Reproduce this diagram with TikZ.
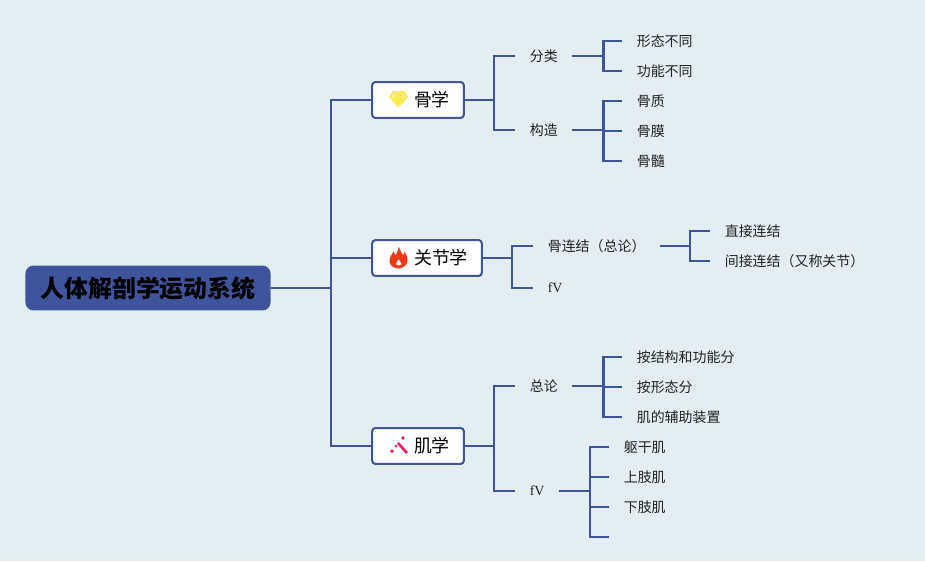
\documentclass[tikz,border=0pt]{standalone}
\usepackage{fontspec}
\usepackage{xcolor}
\setmainfont{Noto Sans CJK SC}
\newfontfamily\fvfont{Liberation Serif}
\usetikzlibrary{positioning}
\definecolor{mybg}{RGB}{228,237,242}
\definecolor{mybar}{RGB}{64,84,158}
\definecolor{mytext}{RGB}{34,34,34}
\definecolor{mygem}{RGB}{250,232,70}
\definecolor{mygemlight}{RGB}{253,245,160}
\definecolor{myflame}{RGB}{240,58,23}
\definecolor{mywand}{RGB}{232,34,95}
\def\px{0.5669pt}
\tikzset{
  rootbox/.style={rectangle, fill=mybar, rounded corners=4.5pt, text=black,
    minimum width=246*\px, minimum height=45*\px, inner sep=0pt,
    font=\fontsize{13.6pt}{16pt}\selectfont\bfseries},
  branchbox/.style={rectangle, draw=mybar, fill=white, rounded corners=1.8pt,
    line width=1.15pt, minimum height=36*\px, inner xsep=14*\px, inner ysep=0pt, outer sep=0pt,
    align=right, text=black, font=\fontsize{10.2pt}{12pt}\selectfont},
  item/.style={anchor=west, inner xsep=14.5*\px, inner ysep=2pt, text=mytext,
    font=\fontsize{7.94pt}{10pt}\selectfont},
  link/.style={line width=1.15pt, color=mybar}
}
\begin{document}
\begin{tikzpicture}[x=0.02cm, y=-0.02cm]
  \fill[mybg] (0,0) rectangle (925,561);
  \useasboundingbox (0,0) rectangle (925,561);

  \node[rootbox] (root) at (148,288) {人体解剖学运动系统};
  \node[branchbox, text width=64*\px] (gu) at (418,100) {骨学};
  \node[branchbox, text width=82*\px] (guanjie) at (427,258) {关节学};
  \node[branchbox, text width=64*\px] (ji) at (418,446) {肌学};

  % first branch
  \node[item] (fenlei) at (515,56) {分类};
  \node[item] (gouzao) at (515,130) {构造};
  \node[item] (xingtai) at (622,41) {形态不同};
  \node[item] (gongneng) at (622,71) {功能不同};
  \node[item] (guzhi) at (622,101) {骨质};
  \node[item] (gumo) at (622,131) {骨膜};
  \node[item] (gusui) at (622,161) {骨髓};

  % second branch
  \node[item] (gulian) at (533,246) {骨连结（总论）};
  \node[item] (fva) at (533,288) {\fvfont fV};
  \node[item] (zhijie) at (710,231) {直接连结};
  \node[item] (jianjie) at (710,261) {间接连结（又称关节）};

  % third branch
  \node[item] (zonglun) at (515,386) {总论};
  \node[item] (fvb) at (515,491) {\fvfont fV};
  \node[item] (jiegou) at (622,357) {按结构和功能分};
  \node[item] (xingfen) at (622,387) {按形态分};
  \node[item] (fuzhu) at (622,417) {肌的辅助装置};
  \node[item] (qugan) at (609,447) {躯干肌};
  \node[item] (shangzhi) at (609,477) {上肢肌};
  \node[item] (xiazhi) at (609,507) {下肢肌};
  \coordinate (blank) at (609,537);

  \foreach \to in {gu,guanjie,ji}
    \draw[link] (root.east) -- ++(60,0) |- (\to.west);
  \foreach \to in {fenlei,gouzao}
    \draw[link] (gu.east) -- ++(30,0) |- (\to.west);
  \foreach \to in {xingtai,gongneng}
    \draw[link] (fenlei.east) -- ++(31,0) |- (\to.west);
  \foreach \to in {guzhi,gumo,gusui}
    \draw[link] (gouzao.east) -- ++(31,0) |- (\to.west);
  \foreach \to in {gulian,fva}
    \draw[link] (guanjie.east) -- ++(30,0) |- (\to.west);
  \foreach \to in {zhijie,jianjie}
    \draw[link] (gulian.east) -- ++(30,0) |- (\to.west);
  \foreach \to in {zonglun,fvb}
    \draw[link] (ji.east) -- ++(30,0) |- (\to.west);
  \foreach \to in {jiegou,xingfen,fuzhu}
    \draw[link] (zonglun.east) -- ++(31,0) |- (\to.west);
  \foreach \to in {qugan,shangzhi,xiazhi}
    \draw[link] (fvb.east) -- ++(31,0) |- (\to.west);
  \draw[link] (fvb.east) -- ++(31,0) |- (blank);

  % gem
  \fill[mygem] (393,91) -- (404,91) -- (408,97) -- (398.5,108) -- (389,97) -- cycle;
  \draw[mygemlight, line width=0.35pt] (389.5,97) -- (407.5,97) (394,92) -- (392.5,97) -- (398.5,107)
    -- (404.5,97) -- (403,92) (392.5,97) -- (398.5,91.5) -- (404.5,97);

  % flame
  \fill[myflame, even odd rule] (399,246.5) .. controls (400,251) and (402,253) .. (403,255)
    .. controls (404,254.5) and (404.5,253) .. (404.5,251.5) .. controls (407.5,256) and (408.5,261) .. (406.5,264)
    .. controls (404.5,267) and (401,268.5) .. (398.5,268.5) .. controls (395,268.5) and (390.5,266.5) .. (389.5,262)
    .. controls (389,258) and (391.5,255) .. (393.5,251.5) .. controls (394.5,253.5) and (395,255) .. (396,255)
    .. controls (397,253) and (398,250) .. (399,246.5) -- cycle
    (398.5,259) .. controls (399,261) and (402,262) .. (401.5,264) .. controls (401,266) and (396.5,266) .. (396,264)
    .. controls (395.5,262.5) and (398,261) .. (398.5,259) -- cycle;

  % wand
  \draw[mywand, line width=1.5pt] (398,443) -- (407,453);
  \fill[mywand] (392,449) -- (394,451) -- (392,453) -- (390,451) -- cycle;
  \fill[mywand] (396,444.5) -- (397.5,446) -- (396,447.5) -- (394.5,446) -- cycle;
  \fill[mywand] (403,436) -- (404.8,438) -- (403,440) -- (401.2,438) -- cycle;
\end{tikzpicture}
\end{document}
